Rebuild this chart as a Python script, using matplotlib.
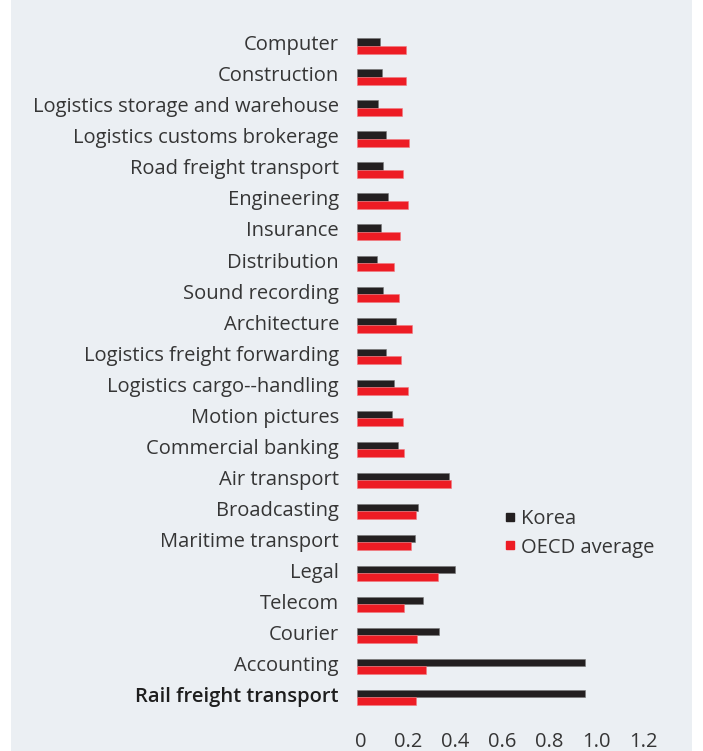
#!/usr/bin/env python3
"""Korea vs OECD average, horizontal paired bars."""

import matplotlib

matplotlib.use("Agg")
import matplotlib.pyplot as plt
from matplotlib.lines import Line2D
from matplotlib.patches import Rectangle
from matplotlib.transforms import ScaledTranslation
import numpy as np

# categories listed bottom to top
categories = [
    "Rail freight transport", "Accounting", "Courier", "Telecom", "Legal",
    "Maritime transport", "Broadcasting", "Air transport", "Commercial banking",
    "Motion pictures", "Logistics cargo--handling", "Logistics freight forwarding",
    "Architecture", "Sound recording", "Distribution", "Insurance", "Engineering",
    "Road freight transport", "Logistics customs brokerage",
    "Logistics storage and warehouse", "Construction", "Computer",
]
korea = [0.97, 0.97, 0.35, 0.28, 0.415, 0.245, 0.26, 0.39, 0.173, 0.15, 0.156,
         0.125, 0.167, 0.11, 0.087, 0.102, 0.132, 0.109, 0.123, 0.09, 0.106, 0.097]
oecd = [0.253, 0.295, 0.255, 0.20, 0.343, 0.23, 0.25, 0.40, 0.20, 0.197, 0.217,
        0.187, 0.233, 0.18, 0.159, 0.183, 0.215, 0.194, 0.22, 0.19, 0.21, 0.207]
xticks = [0, 0.2, 0.4, 0.6, 0.8, 1.0, 1.2]
xticklabels = ["0", "0.2", "0.4", "0.6", "0.8", "1.0", "1.2"]

KOREA_C = "#231f20"
OECD_C = "#ed1c24"
TEXT_C = "#353535"
PANEL_C = "#ebeff3"

plt.rcParams["font.family"] = ["Open Sans", "DejaVu Sans"]

W, H = 703, 751
fig = plt.figure(figsize=(W / 100, H / 100), dpi=100, facecolor="white")
fig.patches.append(Rectangle((11 / W, 0), 681 / W, 1, transform=fig.transFigure,
                             facecolor=PANEL_C, edgecolor="none", zorder=-10))

n = len(categories)
y = np.arange(n)
top_y, bot_y = 46, 697.3  # pixel centres of top and bottom pair
step = (bot_y - top_y) / (n - 1)
ylo, yhi = -0.7, n - 1 + 0.7
ax_bottom = H - (bot_y + 0.7 * step)
ax_height = (yhi - ylo) * step
x0, scale = 357, 235.0
ax = fig.add_axes([x0 / W, ax_bottom / H, 1.3 * scale / W, ax_height / H])
ax.set_facecolor("none")

bh = 0.245
ax.barh(y + bh / 2, korea, height=bh, color=KOREA_C, edgecolor="#777777", linewidth=0.4)
ax.barh(y - bh / 2, oecd, height=bh, color=OECD_C, edgecolor="#f07a80", linewidth=0.4)

FS = 14.5
ax.set_xlim(0, 1.3)
ax.set_ylim(ylo, yhi)
ax.set_yticks(y)
ax.set_yticklabels(categories, fontsize=FS, color=TEXT_C, va="center")
ax.get_yticklabels()[0].set_fontweight("semibold")
ax.get_yticklabels()[0].set_color("#1e1e1e")
ax.set_xticks(xticks)
ax.set_xticklabels(xticklabels, fontsize=FS, color=TEXT_C)
ax.tick_params(axis="y", length=0, pad=13)
ax.tick_params(axis="x", length=0, pad=9)
for s in ax.spines.values():
    s.set_visible(False)
# small offsets so the labels sit where the original has them
for lab in ax.get_yticklabels():
    lab.set_transform(lab.get_transform() + ScaledTranslation(0, 0.6 / 100, fig.dpi_scale_trans))
for lab in ax.get_xticklabels():
    lab.set_transform(lab.get_transform() + ScaledTranslation(4 / 100, 0, fig.dpi_scale_trans))

handles = [
    Line2D([], [], linestyle="none", marker="s", markersize=6, color=KOREA_C),
    Line2D([], [], linestyle="none", marker="s", markersize=6, color=OECD_C),
]
fig.legend(handles, ["Korea", "OECD average"], loc="upper left",
           bbox_to_anchor=(495 / W, 1 - 499 / H), frameon=False, fontsize=FS,
           handlelength=0.5, handletextpad=0.3, labelspacing=0.42,
           labelcolor=TEXT_C, borderpad=0)

fig.savefig("out.png", dpi=100, facecolor="white")
